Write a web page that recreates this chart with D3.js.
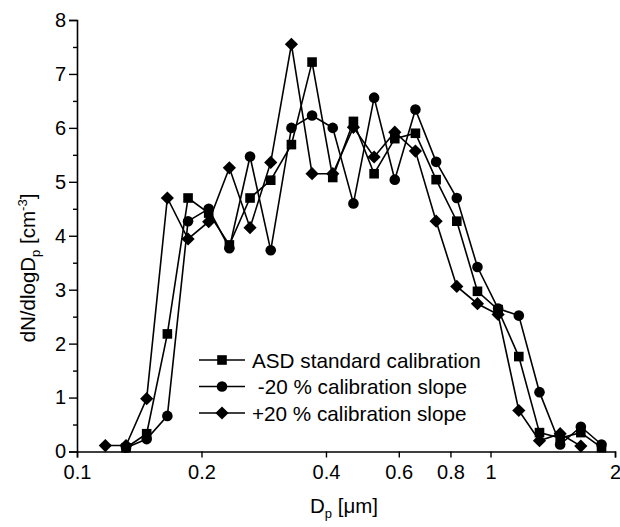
<!DOCTYPE html>
<html>
<head>
<meta charset="utf-8">
<script src="https://cdn.jsdelivr.net/npm/d3@7"></script>
<style>
  body { margin: 0; background: #fff; }
  text { font-family: "Liberation Sans", Arial, sans-serif; fill: #000; }
</style>
</head>
<body>
<div id="chart"></div>
<script>
const width = 620, height = 527;

// particle diameter channels [um]
const dpMain = [0.1314, 0.1474, 0.1654, 0.1856, 0.2082, 0.2336, 0.2621, 0.2941, 0.3300, 0.3702,
    0.4154, 0.4661, 0.5230, 0.5868, 0.6583, 0.7387, 0.8288, 0.9299, 1.0433, 1.1706,
    1.3135, 1.4738, 1.6536, 1.8553];
const dpPlus = [0.1171, 0.1314, 0.1474, 0.1654, 0.1856, 0.2082, 0.2336, 0.2621, 0.2941, 0.3300,
    0.3702, 0.4154, 0.4661, 0.5230, 0.5868, 0.6583, 0.7387, 0.8288, 0.9299, 1.0433,
    1.1706, 1.3135, 1.4738, 1.6536];

const asdStandard = [0.07, 0.33, 2.18, 4.70, 4.42, 3.83, 4.70, 5.03, 5.69, 7.22,
    5.08, 6.12, 5.15, 5.80, 5.90, 5.04, 4.27, 2.97, 2.63, 1.76,
    0.35, 0.25, 0.35, 0.07];
const minus20 = [0.07, 0.23, 0.66, 4.27, 4.50, 3.77, 5.47, 3.73, 6.00, 6.23,
    6.00, 4.60, 6.56, 5.04, 6.34, 5.37, 4.70, 3.42, 2.65, 2.52,
    1.10, 0.13, 0.46, 0.13];
const plus20 = [0.11, 0.11, 0.98, 4.70, 3.94, 4.26, 5.26, 4.15, 5.36, 7.55,
    5.15, 5.15, 6.01, 5.46, 5.92, 5.57, 4.27, 3.06, 2.74, 2.54,
    0.76, 0.20, 0.33, 0.10];

const legendLabels = ["ASD standard calibration", " -20 % calibration slope", "+20 % calibration slope"];
const xTicks = [0.1, 0.2, 0.4, 0.6, 0.8, 1, 2];
const yTicks = [0, 1, 2, 3, 4, 5, 6, 7, 8];
const yMinor = [0.5, 1.5, 2.5, 3.5, 4.5, 5.5, 6.5, 7.5];

const x = d3.scaleLog().domain([0.1, 2]).range([77, 615]);
const y = d3.scaleLinear().domain([0, 8]).range([451.5, 20]);

const svg = d3.select("#chart").append("svg")
    .attr("width", width)
    .attr("height", height);

// marker shapes
function marker(g, shape, cx, cy) {
    if (shape === "square") {
        g.append("rect").attr("x", cx - 4.8).attr("y", cy - 4.8)
            .attr("width", 9.6).attr("height", 9.6).attr("fill", "#000");
    } else if (shape === "circle") {
        g.append("circle").attr("cx", cx).attr("cy", cy).attr("r", 5.3).attr("fill", "#000");
    } else {
        const r = 6.6;
        g.append("path")
            .attr("d", `M${cx},${cy - r}L${cx + r},${cy}L${cx},${cy + r}L${cx - r},${cy}Z`)
            .attr("fill", "#000");
    }
}

const series = [
    {xs: dpMain, ys: asdStandard, shape: "square"},
    {xs: dpMain, ys: minus20, shape: "circle"},
    {xs: dpPlus, ys: plus20, shape: "diamond"}
];

const line = d3.line().x(d => x(d[0])).y(d => y(d[1]));

series.forEach(function (s) {
    const pts = s.xs.map((d, i) => [d, s.ys[i]]);
    const g = svg.append("g");
    g.append("path")
        .attr("d", line(pts))
        .attr("fill", "none")
        .attr("stroke", "#000")
        .attr("stroke-width", 1.6);
    pts.forEach(p => marker(g, s.shape, x(p[0]), y(p[1])));
});

// axes
const xAxis = d3.axisBottom(x)
    .tickValues(xTicks)
    .tickFormat(d3.format("~g"))
    .tickSize(6)
    .tickPadding(7);
svg.append("g")
    .attr("transform", `translate(0,${y(0)})`)
    .call(xAxis);

const yAxis = d3.axisLeft(y)
    .tickValues(yTicks)
    .tickFormat(d3.format("d"))
    .tickSize(8)
    .tickPadding(3);
svg.append("g")
    .attr("transform", `translate(${x(0.1)},0)`)
    .call(yAxis);

svg.append("g")
    .attr("transform", `translate(${x(0.1)},0)`)
    .call(d3.axisLeft(y).tickValues(yMinor).tickSize(4).tickFormat(""))
    .select(".domain").remove();

svg.selectAll(".domain").attr("stroke", "#000").attr("stroke-width", 1.6);
svg.selectAll(".tick line").attr("stroke", "#000").attr("stroke-width", 1.4);
svg.selectAll(".tick text")
    .attr("font-family", "Liberation Sans, Arial, sans-serif")
    .attr("font-size", 20)
    .attr("fill", "#000");

// axis titles
const xl = svg.append("text")
    .attr("x", 310)
    .attr("y", 513)
    .attr("font-size", 20.5);
xl.append("tspan").text("D");
xl.append("tspan").attr("font-size", 13).attr("dy", 5).text("p");
xl.append("tspan").attr("dy", -5).text(" [μm]");

const yl = svg.append("text")
    .attr("transform", "translate(35,268) rotate(-90)")
    .attr("text-anchor", "middle")
    .attr("font-size", 20.5);
yl.append("tspan").text("dN/dlogD");
yl.append("tspan").attr("font-size", 13).attr("dy", 5).text("p");
yl.append("tspan").attr("dy", -5).text(" [cm");
yl.append("tspan").attr("font-size", 13).attr("dy", -8).text("-3");
yl.append("tspan").attr("dy", 8).text("]");

// legend
const legendY = [360, 386.5, 413];
series.forEach(function (s, i) {
    const g = svg.append("g");
    g.append("line")
        .attr("x1", 199).attr("x2", 245)
        .attr("y1", legendY[i]).attr("y2", legendY[i])
        .attr("stroke", "#000").attr("stroke-width", 1.6);
    marker(g, s.shape, 222, legendY[i]);
    g.append("text")
        .attr("x", 252)
        .attr("y", legendY[i] + 7.5)
        .attr("font-size", 20.7)
        .style("white-space", "pre")
        .text(legendLabels[i]);
});
</script>
</body>
</html>
